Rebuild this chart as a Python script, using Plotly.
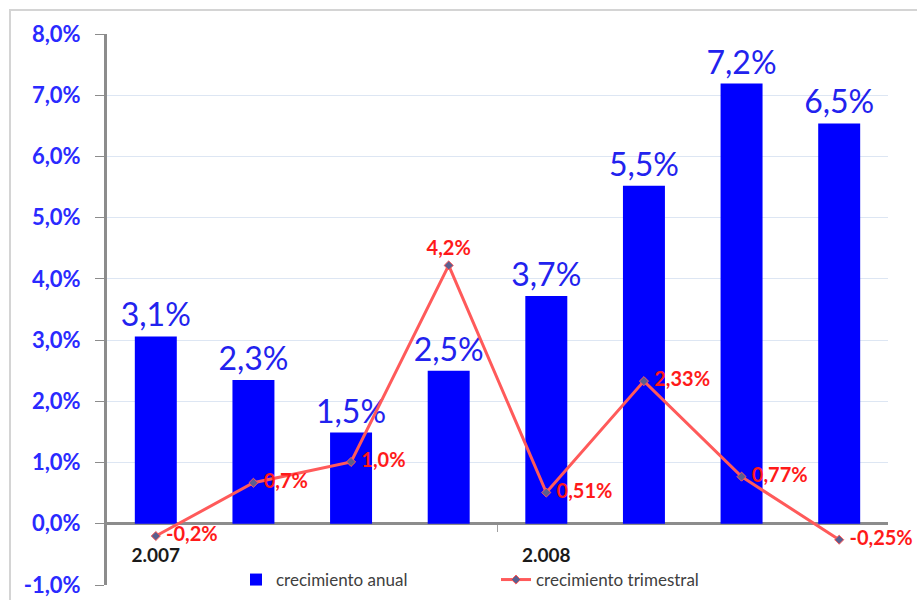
import plotly.graph_objects as go

x_idx = [0, 1, 2, 3, 4, 5, 6, 7]
anual = [3.06, 2.35, 1.49, 2.50, 3.72, 5.52, 7.19, 6.54]
anual_labels = ["3,1%", "2,3%", "1,5%", "2,5%", "3,7%", "5,5%", "7,2%", "6,5%"]
trim = [-0.20, 0.67, 1.01, 4.22, 0.51, 2.33, 0.77, -0.26]
trim_labels = [" -0,2%", " 0,7%", " 1,0%", "4,2%", " 0,51%", " 2,33%", " 0,77%", " -0,25%"]
trim_pos = ["middle right", "middle right", "middle right", "top center",
            "middle right", "middle right", "middle right", "middle right"]
year_ticks = [0, 4]
year_labels = ["2.007", "2.008"]
y_ticks = [-1, 0, 1, 2, 3, 4, 5, 6, 7, 8]
y_tick_labels = ["-1,0%", "0,0%", "1,0%", "2,0%", "3,0%", "4,0%",
                 "5,0%", "6,0%", "7,0%", "8,0%"]

FONT = "Lato"

fig = go.Figure()
fig.add_trace(go.Bar(
    x=x_idx, y=anual, name="crecimiento anual",
    marker=dict(color="#0000ff", line=dict(width=0)),
    width=0.43,
    text=anual_labels, textposition="outside",
    textfont=dict(family=FONT, size=32, color="#2222ee"),
    constraintext="none", cliponaxis=False,
))
fig.add_trace(go.Scatter(
    x=x_idx, y=trim, name="crecimiento trimestral",
    mode="lines+markers+text",
    line=dict(color="#ff5a5a", width=3),
    marker=dict(symbol="diamond", size=7, color="#5a5f8f",
                line=dict(color="#ff5a5a", width=1)),
    text=trim_labels, textposition=trim_pos,
    textfont=dict(family=FONT, size=20, color="#ff1a1a", weight="bold"),
    cliponaxis=False,
))

L, R, T, B = 107, 29, 34, 15
ph = 600 - T - B
pw = 917 - L - R

fig.update_layout(
    width=917, height=600,
    margin=dict(l=L, r=R, t=T, b=B, autoexpand=False),
    paper_bgcolor="white", plot_bgcolor="white",
    showlegend=True,
    legend=dict(orientation="h", x=(236 - L) / pw, xanchor="left",
                y=(585 - 580) / ph, yanchor="middle",
                bgcolor="rgba(255,255,255,0)",
                font=dict(family=FONT, size=17, color="#404040"),
                itemwidth=30, tracegroupgap=0,
                entrywidth=215, entrywidthmode="pixels"),
    xaxis=dict(range=[-0.5, 7.5], tickmode="array", tickvals=year_ticks,
               ticktext=year_labels, showgrid=False, zeroline=False,
               showline=False, ticks="", anchor="free",
               position=1 / 9, ticklabelstandoff=18,
               tickfont=dict(family=FONT, size=19, color="#1a1a1a", weight="bold"),
               minor=dict(tickvals=[3.5], ticks="outside", ticklen=7,
                          tickcolor="#a0a0a0", tickwidth=1)),
    yaxis=dict(range=[-1, 8], tickmode="array", tickvals=y_ticks,
               ticktext=y_tick_labels,
               showgrid=True, gridcolor="#dde6f3", gridwidth=1,
               zeroline=True, zerolinecolor="#8c8c8c", zerolinewidth=2.5,
               showline=True, linecolor="#8c8c8c", linewidth=3,
               ticks="outside", ticklen=9, tickcolor="#8c8c8c",
               ticklabelstandoff=10,
               tickfont=dict(family=FONT, size=22, color="#2a2aff", weight="bold")),
    shapes=[dict(type="rect", xref="paper", yref="paper",
                 x0=(10 - L) / pw, x1=1.2, y0=-0.2, y1=1 + (T - 10) / ph,
                 line=dict(color="#d4d4d4", width=2), layer="below")],
)

fig.write_html("out.html")
